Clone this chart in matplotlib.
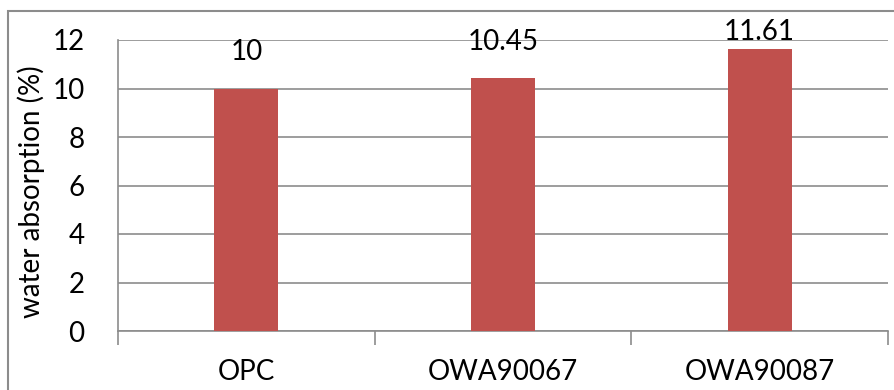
import matplotlib.pyplot as plt
from matplotlib.patches import Rectangle

# water absorption per mix
mixes = ["OPC", "OWA90067", "OWA90087"]
absorption = [10, 10.45, 11.61]
value_labels = ["10", "10.45", "11.61"]
y_ticks = [0, 2, 4, 6, 8, 10, 12]

plt.rcParams['font.family'] = ['Lato', 'DejaVu Sans']
FS = 20

fig = plt.figure(figsize=(8.94, 3.90), dpi=100)
ax = fig.add_axes([118 / 894, 1 - 331 / 390, (888 - 118) / 894, (331 - 40) / 390])

x = range(len(mixes))
ax.bar(x, absorption, width=0.25, color="#C0504D", zorder=3)

# value labels sit a bit above each bar, pushed down if they would leave the chart
for xi, v, lab in zip(x, absorption, value_labels):
    ax.text(xi, min(v + 0.95, 11.8), lab, ha="center", va="bottom",
            fontsize=FS, color="black", zorder=4, clip_on=False)

ax.set_xlim(-0.5, 2.5)
ax.set_ylim(0, 12)
ax.set_yticks(y_ticks)
ax.yaxis.grid(True, color="#8c8c8c", linewidth=1.2, zorder=0)
ax.tick_params(axis="y", length=0, labelsize=FS, pad=24)

# category labels between boundary tick marks
ax.set_xticks([-0.5, 0.5, 1.5, 2.5])
ax.set_xticklabels([])
ax.set_xticks(list(x), minor=True)
ax.set_xticklabels(mixes, minor=True)
ax.tick_params(axis="x", which="major", length=10, color="#8c8c8c", width=1.2)
ax.tick_params(axis="x", which="minor", length=0, labelsize=FS, pad=20)

for side in ["top", "right"]:
    ax.spines[side].set_visible(False)
for side in ["left", "bottom"]:
    ax.spines[side].set_color("#8c8c8c")
    ax.spines[side].set_linewidth(1.2)

fig.text(31 / 894, 1 - 192 / 390, "water absorption (%)", rotation=90,
         ha="center", va="center", fontsize=FS)

# chart area border
fig.patches.append(Rectangle((8 / 894, -0.1), 1.2, 1.1 - 11 / 390, transform=fig.transFigure,
                             fill=False, edgecolor="#8c8c8c", linewidth=1.5))

fig.savefig("out.png", dpi=100)
